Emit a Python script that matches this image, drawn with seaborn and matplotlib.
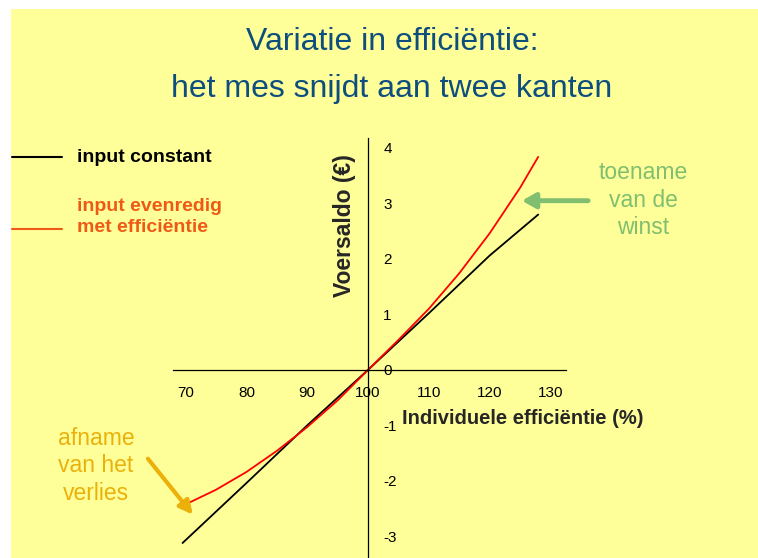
import pandas as pd
import seaborn as sns
import matplotlib.pyplot as plt
from matplotlib.patches import Rectangle
from matplotlib.lines import Line2D

# Values
x_const = [69.5, 80, 90, 100, 110, 120, 128]
y_const = [-3.12, -2.04, -1.0, 0.0, 1.02, 2.06, 2.8]

x_prop = [69.5, 75, 80, 85, 90, 95, 100, 105, 110, 115, 120, 125, 128]
y_prop = [-2.45, -2.16, -1.84, -1.46, -1.03, -0.55, 0.0, 0.54, 1.1, 1.74, 2.46, 3.28, 3.84]

x_ticks = [70, 80, 90, 100, 110, 120, 130]
y_ticks = [-3, -2, -1, 0, 1, 2, 3, 4]
y_tick_labels = ['-3', '-2', '-1', '0', '1', '2', '3', '4']

series_names = ['input constant', 'input evenredig met efficiëntie']

df = pd.concat([
    pd.DataFrame({'eff': x_const, 'saldo': y_const, 'serie': series_names[0]}),
    pd.DataFrame({'eff': x_prop, 'saldo': y_prop, 'serie': series_names[1]}),
])

sns.set_style('white')
plt.rcParams['font.family'] = ['Liberation Sans', 'DejaVu Sans']

W, H = 758, 558
fig = plt.figure(figsize=(W / 100, H / 100), dpi=100, facecolor='white')


def fx(px):
    return px / W


def fy(py):
    return 1 - py / H


# yellow slide background
fig.add_artist(Rectangle((fx(11), 0), 1 - fx(11), fy(9), transform=fig.transFigure,
                         facecolor='#FFFF99', edgecolor='none', zorder=0))

ax = fig.add_axes([fx(173), 0, fx(566) - fx(173), fy(138)])
ax.set_facecolor('none')

sns.lineplot(data=df, x='eff', y='saldo', hue='serie',
             palette={series_names[0]: 'black', series_names[1]: '#FF0000'},
             linewidth=1.3, legend=False, ax=ax, sort=False)

ax.set_xlim(67.93, 132.57)
ax.set_ylim(-3.39, 4.18)

# axes crossing at (100, 0)
ax.spines['left'].set_position(('data', 100))
ax.spines['bottom'].set_position(('data', 0))
ax.spines['top'].set_visible(False)
ax.spines['right'].set_visible(False)
for s in ['left', 'bottom']:
    ax.spines[s].set_linewidth(0.9)
    ax.spines[s].set_color('black')

ax.set_xticks(x_ticks)
ax.set_xticklabels([str(t) for t in x_ticks])
ax.set_yticks(y_ticks)
ax.set_yticklabels(y_tick_labels)
ax.tick_params(axis='x', direction='out', length=3.5, width=0.8, pad=8,
               labelsize=11, colors='black')
ax.tick_params(axis='y', direction='in', length=4, width=0.8, pad=-11,
               labelsize=11, colors='black')
for lab in ax.get_yticklabels():
    lab.set_horizontalalignment('left')

ax.set_xlabel('Individuele efficiëntie (%)', fontsize=14.5, fontweight='bold',
              ha='left', va='center')
ax.xaxis.set_label_coords(fx(402), fy(418), transform=fig.transFigure)
ax.set_ylabel('Voersaldo (€)', fontsize=16.5, fontweight='bold', va='center')
ax.yaxis.set_label_coords(fx(345), fy(226), transform=fig.transFigure)

# title
title_col = '#0D4E7E'
fig.text(fx(392), fy(42), 'Variatie in efficiëntie:', ha='center', va='center',
         fontsize=23, color=title_col)
fig.text(fx(392), fy(89), 'het mes snijdt aan twee kanten', ha='center', va='center',
         fontsize=23, color=title_col)

# hand-made legend
orange = '#EE5A16'
fig.add_artist(Line2D([fx(12), fx(62)], [fy(157), fy(157)], color='black', lw=1.5,
                      transform=fig.transFigure))
fig.text(fx(77), fy(157), series_names[0], ha='left', va='center', fontsize=14,
         fontweight='bold', color='black')
fig.add_artist(Line2D([fx(12), fx(62)], [fy(229), fy(229)], color=orange, lw=1.5,
                      transform=fig.transFigure))
fig.text(fx(77), fy(217), 'input evenredig\nmet efficiëntie', ha='left', va='center',
         fontsize=14, fontweight='bold', color=orange, linespacing=1.25)

# annotations
green = '#7FBF6F'
gold = '#EBB00A'
ax.annotate('', xy=(125.3, 3.05), xytext=(136.2, 3.05), annotation_clip=False,
            arrowprops=dict(arrowstyle='-|>,head_length=0.8,head_width=0.45',
                            color=green, lw=3.5, shrinkA=0, shrinkB=0))
fig.text(fx(643), fy(200), 'toename\nvan de\nwinst', ha='center', va='center',
         fontsize=16.5, color=green, linespacing=1.27)

ax.annotate('', xy=(71.2, -2.61), xytext=(63.8, -1.6), annotation_clip=False,
            arrowprops=dict(arrowstyle='-|>,head_length=0.8,head_width=0.4',
                            color=gold, lw=3, shrinkA=0, shrinkB=0))
fig.text(fx(96), fy(466), 'afname\nvan het\nverlies', ha='center', va='center',
         fontsize=16.5, color=gold, linespacing=1.27)

fig.savefig('out.png', dpi=100)
